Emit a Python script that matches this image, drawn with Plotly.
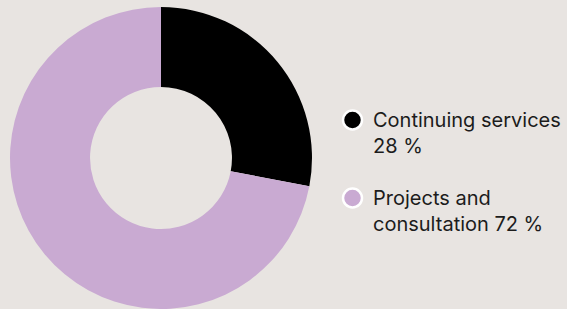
import plotly.graph_objects as go

categories = ["Continuing services", "Projects and consultation"]
values = [28, 72]
legend_texts = ["Continuing services<br>28 %", "Projects and<br>consultation 72 %"]
colors = ["#000000", "#c9aad2"]

W, H = 567, 309

fig = go.Figure()
fig.add_trace(go.Pie(
    labels=categories, values=values, hole=0.47, sort=False,
    direction="clockwise", rotation=0,
    marker=dict(colors=colors, line=dict(width=0)),
    textinfo="none", hoverinfo="label+percent", showlegend=False,
    domain=dict(x=[10 / W, 312 / W], y=[0, 302 / H]),
))

# custom legend
marker_x = 352.5
text_x = 370.5
first_lines_y = [120, 198]
for i, (txt, col) in enumerate(zip(legend_texts, colors)):
    cy = first_lines_y[i]
    fig.add_shape(type="circle", xref="paper", yref="paper",
                  x0=(marker_x - 9.5) / W, x1=(marker_x + 9.5) / W,
                  y0=1 - (cy + 9.5) / H, y1=1 - (cy - 9.5) / H,
                  fillcolor=col, line=dict(color="white", width=2.5))
    fig.add_annotation(xref="paper", yref="paper", x=text_x / W, y=1 - (cy - 14) / H,
                       xanchor="left", yanchor="top", align="left", showarrow=False,
                       text=txt, font=dict(family="Inter", size=20, color="#1c1c1c"))

fig.update_layout(
    width=W, height=H, margin=dict(l=0, r=0, t=0, b=0),
    paper_bgcolor="#e8e4e1", plot_bgcolor="#e8e4e1",
)
fig.write_html("out.html", config={"displayModeBar": False},
               post_script="document.body.style.margin='0';document.body.style.overflow='hidden';")
